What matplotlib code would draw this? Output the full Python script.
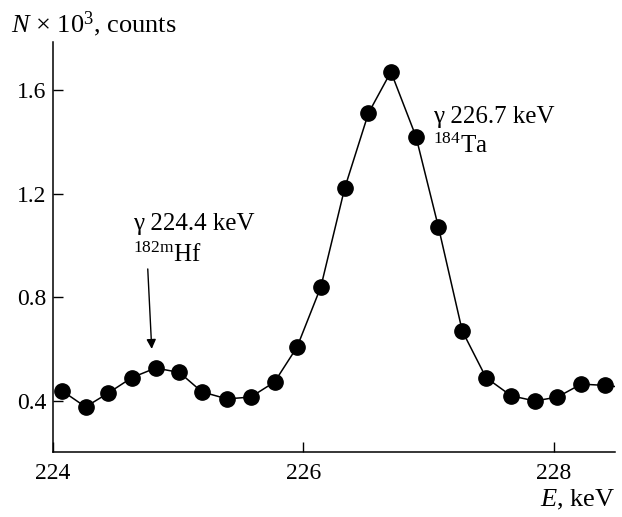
import matplotlib
matplotlib.use("Agg")
import matplotlib.pyplot as plt

plt.rcParams['font.family'] = ['Liberation Serif', 'DejaVu Serif']
plt.rcParams['mathtext.fontset'] = 'custom'
plt.rcParams['mathtext.rm'] = 'Liberation Serif'
plt.rcParams['mathtext.it'] = 'Liberation Serif:italic'

# spectrum
energy = [224.07, 224.26, 224.44, 224.63, 224.82, 225.01, 225.19, 225.39,
          225.58, 225.77, 225.95, 226.14, 226.33, 226.52, 226.70, 226.90,
          227.08, 227.27, 227.46, 227.66, 227.85, 228.03, 228.22, 228.41,
          228.60]
counts = [0.44, 0.377, 0.43, 0.49, 0.527, 0.51, 0.435, 0.408,
          0.415, 0.473, 0.608, 0.84, 1.22, 1.51, 1.67, 1.42,
          1.07, 0.67, 0.49, 0.42, 0.40, 0.415, 0.465, 0.46,
          0.45]
xticks = [224, 226, 228]
yticks = [0.4, 0.8, 1.2, 1.6]

fig = plt.figure(figsize=(6.22, 5.17), dpi=100)
ax = fig.add_axes([0.0852, 0.1257, 0.9035, 0.7931])

ax.plot(energy, counts, color='black', lw=1.1, marker='o', ms=11,
        markerfacecolor='black', markeredgecolor='black', clip_on=True)

ax.set_xlim(224.0, 228.49)
ax.set_ylim(0.203, 1.785)
ax.set_xticks(xticks)
ax.set_yticks(yticks)
ax.set_xticklabels([str(t) for t in xticks])
ax.set_yticklabels(['%.1f' % t for t in yticks])
ax.tick_params(direction='in', length=7, width=1, labelsize=17, pad=5)
ax.tick_params(axis='x', pad=8)
for s in ['top', 'right']:
    ax.spines[s].set_visible(False)
for s in ['left', 'bottom']:
    ax.spines[s].set_linewidth(1.1)

fig.text(0.018, 0.953, r'$N$ × 10$^3$, counts', fontsize=19, ha='left', va='center')
fig.text(0.989, 0.033, r'$E$, keV', fontsize=19, ha='right', va='center')

ax.text(224.64, 1.058, 'γ 224.4 keV', fontsize=18, ha='left', va='baseline')
ax.text(224.64, 0.935, r'$^{182\mathrm{m}}$Hf', fontsize=18, ha='left', va='baseline')
ax.annotate('', xy=(224.79, 0.59), xytext=(224.756, 0.92),
            arrowprops=dict(arrowstyle='-|>', color='black', lw=1, mutation_scale=14))

ax.text(227.04, 1.473, 'γ 226.7 keV', fontsize=18, ha='left', va='baseline')
ax.text(227.04, 1.358, r'$^{184}$Ta', fontsize=18, ha='left', va='baseline')

fig.savefig('out.png', dpi=100)
